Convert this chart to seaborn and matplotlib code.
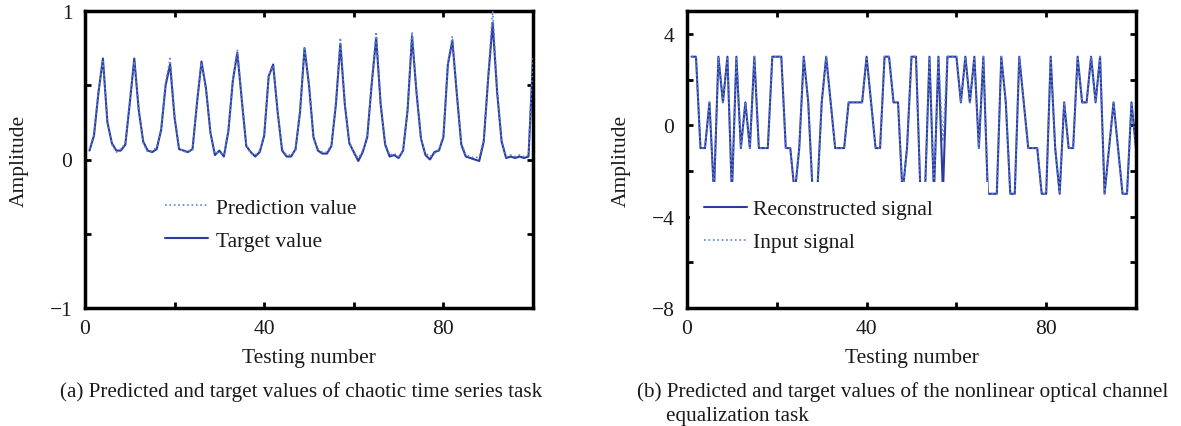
import numpy as np
import pandas as pd
import matplotlib
matplotlib.use("Agg")
import matplotlib.pyplot as plt
from matplotlib.patches import Rectangle
import seaborn as sns

# ---------------- data ----------------
test_idx = list(range(1, 101))

target_value = [0.06, 0.16, 0.45, 0.68, 0.25, 0.11, 0.06, 0.06, 0.10, 0.38,
                0.68, 0.33, 0.12, 0.06, 0.05, 0.07, 0.20, 0.50, 0.64, 0.28,
                0.07, 0.06, 0.05, 0.07, 0.38, 0.66, 0.48, 0.18, 0.03, 0.06,
                0.02, 0.19, 0.53, 0.72, 0.40, 0.09, 0.05, 0.02, 0.05, 0.16,
                0.56, 0.64, 0.32, 0.06, 0.02, 0.02, 0.07, 0.32, 0.75, 0.50,
                0.15, 0.06, 0.04, 0.04, 0.09, 0.37, 0.78, 0.37, 0.11, 0.05,
                -0.01, 0.05, 0.15, 0.51, 0.82, 0.37, 0.10, 0.02, 0.03, 0.01,
                0.06, 0.33, 0.83, 0.45, 0.14, 0.03, 0.00, 0.05, 0.06, 0.15,
                0.64, 0.80, 0.44, 0.10, 0.02, 0.01, 0.00, -0.01, 0.12, 0.55,
                0.92, 0.45, 0.12, 0.01, 0.02, 0.01, 0.02, 0.01, 0.02, 0.68]

prediction_value = [0.07, 0.17, 0.46, 0.66, 0.27, 0.10, 0.05, 0.07, 0.11, 0.40,
                    0.66, 0.35, 0.11, 0.05, 0.06, 0.08, 0.21, 0.52, 0.68, 0.30,
                    0.08, 0.05, 0.06, 0.06, 0.39, 0.65, 0.47, 0.19, 0.04, 0.05,
                    0.03, 0.20, 0.54, 0.74, 0.41, 0.10, 0.04, 0.03, 0.06, 0.17,
                    0.57, 0.63, 0.33, 0.07, 0.03, 0.03, 0.06, 0.33, 0.76, 0.51,
                    0.14, 0.07, 0.05, 0.05, 0.10, 0.38, 0.82, 0.38, 0.12, 0.04,
                    0.01, 0.06, 0.16, 0.52, 0.86, 0.38, 0.11, 0.03, 0.04, 0.02,
                    0.05, 0.34, 0.86, 0.46, 0.13, 0.04, 0.02, 0.04, 0.07, 0.16,
                    0.65, 0.83, 0.45, 0.11, 0.03, 0.02, 0.01, 0.02, 0.13, 0.57,
                    1.00, 0.47, 0.13, 0.02, 0.03, 0.02, 0.03, 0.02, 0.03, 0.70]

reconstructed_signal = [3, 3, -1, -1, 1, -3, 3, 1, 3, -3,
                        3, -1, 1, -1, 3, -1, -1, -1, 3, 3,
                        3, -1, -1, -3, -1, 3, 1, -3, -3, 1,
                        3, 1, -1, -1, -1, 1, 1, 1, 1, 3,
                        1, -1, -1, 3, 3, 1, 1, -3, -1, 3,
                        3, -3, -3, 3, -3, 3, -3, 3, 3, 3,
                        1, 3, 1, 3, -1, 3, -3, -3, -3, 3,
                        1, -3, -3, 3, 1, -1, -1, -1, -3, -3,
                        3, -1, -3, 1, -1, -1, 3, 1, 1, 3,
                        1, 3, -3, -1, 1, -1, -3, -3, 1, -1]

input_signal = [3, 3, -1, -1, 1, -3, 3, 1, 3, -3,
                3, -1, 1, -1, 3, -1, -1, -1, 3, 3,
                3, -1, -1, -3, -1, 3, 1, -3, -3, 1,
                3, 1, -1, -1, -1, 1, 1, 1, 1, 3,
                1, -1, -1, 3, 3, 1, 1, -3, -1, 3,
                3, -3, -3, 3, -3, 3, -0.7, 3, 3, 3,
                1, 3, 1, 3, -1, 3, -3, -3, -3, 3,
                1, -3, -3, 3, 1, -1, -1, -1, -3, -3,
                3, -1, -3, 1, -1, -1, 3, 1, 1, 3,
                1, 3, -3, -1, 1, -1, -3, -3, 1, -1]

x_ticks = [0, 20, 40, 60, 80, 100]
x_ticklabels = ["0", "", "40", "", "80", ""]
left_yticks = [-1, -0.5, 0, 0.5, 1]
left_yticklabels = ["\u22121", "", "0", "", "1"]
right_yticks = [-8, -6, -4, -2, 0, 2, 4]
right_yticklabels = ["\u22128", "", "\u22124", "", "0", "", "4"]

caption_a = "(a) Predicted and target values of chaotic time series task"
caption_b1 = "(b) Predicted and target values of the nonlinear optical channel"
caption_b2 = "equalization task"

# ---------------- style ----------------
sns.set_theme(style="white")
plt.rcParams["font.family"] = ["Liberation Serif", "DejaVu Serif"]
plt.rcParams["axes.unicode_minus"] = True
plt.rcParams["text.color"] = "#1a1a1a"
plt.rcParams["axes.labelcolor"] = "#1a1a1a"
plt.rcParams["xtick.color"] = "#1a1a1a"
plt.rcParams["ytick.color"] = "#1a1a1a"

SOLID = "#2b3c9e"
DOTTED = "#5b82d6"
FS = 15.5
FS_CAP = 15.2

fig = plt.figure(figsize=(11.81, 4.27), dpi=100)
axL = fig.add_axes([85 / 1181, 1 - 309 / 427, 448 / 1181, 297 / 427])
axR = fig.add_axes([687 / 1181, 1 - 309 / 427, 449 / 1181, 297 / 427])

dfL = pd.DataFrame({"x": test_idx, "target": target_value, "pred": prediction_value})
dfR = pd.DataFrame({"x": test_idx, "rec": reconstructed_signal, "inp": input_signal})

# left panel
sns.lineplot(data=dfL, x="x", y="pred", ax=axL, color=DOTTED, linestyle=":",
             linewidth=1.2, label="Prediction value", zorder=3)
sns.lineplot(data=dfL, x="x", y="target", ax=axL, color=SOLID, linestyle="-",
             linewidth=1.5, label="Target value", zorder=2)

# right panel
sns.lineplot(data=dfR, x="x", y="rec", ax=axR, color=SOLID, linestyle="-",
             linewidth=1.5, label="Reconstructed signal", zorder=2)
sns.lineplot(data=dfR, x="x", y="inp", ax=axR, color=DOTTED, linestyle=":",
             linewidth=1.2, label="Input signal", zorder=2.5)

for ax in (axL, axR):
    ax.set_xlim(0, 100)
    ax.set_xticks(x_ticks)
    ax.set_xticklabels(x_ticklabels)
    ax.tick_params(direction="in", top=True, right=True, bottom=True, left=True,
                   length=4, width=2, labelsize=FS, color="black")
    ax.tick_params(axis="x", pad=8)
    ax.tick_params(axis="y", pad=9)
    for s in ax.spines.values():
        s.set_visible(True)
        s.set_color("black")
        s.set_linewidth(2.5)
    ax.set_xlabel("Testing number", fontsize=FS)
    ax.set_ylabel("Amplitude", fontsize=FS)
    ax.xaxis.set_label_coords(0.5, -0.135)
    ax.yaxis.set_label_coords(-0.125, 0.5)
    ax.grid(False)
    ax.set_facecolor("white")

axL.set_ylim(-1, 1)
axL.set_yticks(left_yticks)
axL.set_yticklabels(left_yticklabels)

axR.set_ylim(-8, 5)
axR.set_yticks(right_yticks)
axR.set_yticklabels(right_yticklabels)

# legends
legL = axL.legend(loc="upper left", bbox_to_anchor=(0.16, 0.40), frameon=False,
                  fontsize=FS, handlelength=2.0, handletextpad=0.35,
                  labelspacing=0.6, borderaxespad=0)
legR = axR.legend(loc="upper left", bbox_to_anchor=(0.018, 0.395), frameon=False,
                  fontsize=FS, handlelength=2.0, handletextpad=0.3,
                  labelspacing=0.6, borderaxespad=0)
legR.set_zorder(6)
# opaque legend box area (covers the lines below it, as in the original)
axR.add_patch(Rectangle((0.006, 0.18), 0.665, 0.243, transform=axR.transAxes,
                        facecolor="white", edgecolor="none", zorder=4))

fig.text(60 / 1181, 1 - 397 / 427, caption_a, fontsize=FS_CAP, va="baseline", ha="left")
fig.text(637 / 1181, 1 - 397 / 427, caption_b1, fontsize=FS_CAP, va="baseline", ha="left")
fig.text(666 / 1181, 1 - 421 / 427, caption_b2, fontsize=FS_CAP, va="baseline", ha="left")

fig.savefig("out.png", dpi=100, facecolor="white")
